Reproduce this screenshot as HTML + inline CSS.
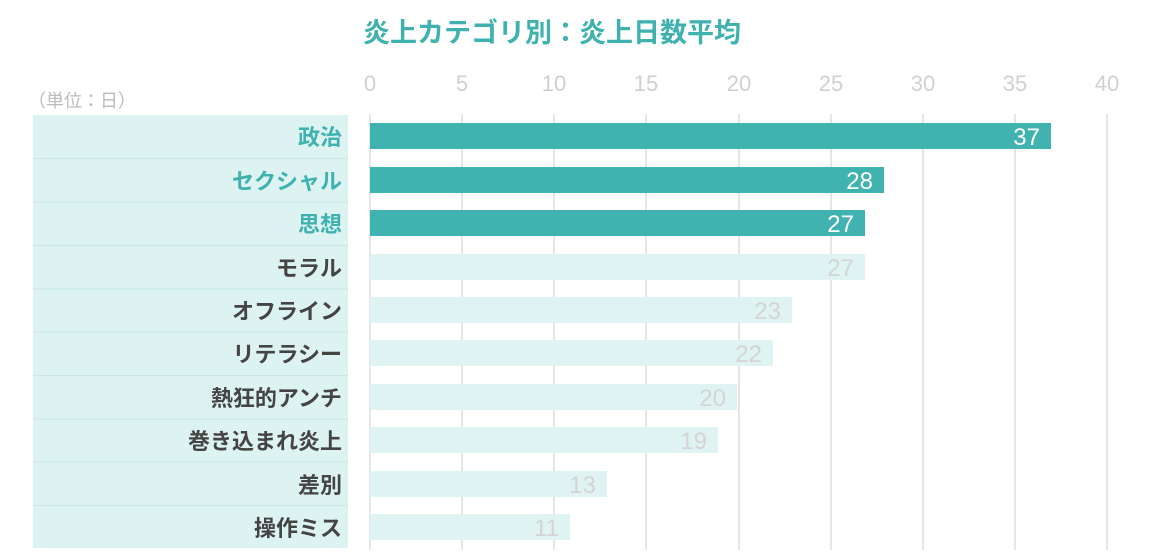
<!DOCTYPE html>
<html><head><meta charset="utf-8"><style>
body{margin:0;background:#fff;width:1149px;height:555px;overflow:hidden;font-family:"Liberation Sans","Noto Sans CJK JP",sans-serif}
</style></head><body>
<svg width="1149" height="555" xmlns="http://www.w3.org/2000/svg" font-family="Liberation Sans, Noto Sans CJK JP, sans-serif">
<text x="552" y="42" text-anchor="middle" font-size="27" font-weight="bold" fill="#3fb2b0">炎上カテゴリ別：炎上日数平均</text>
<text x="28" y="107" font-size="18" fill="#bbb">（単位：日）</text>
<rect x="33" y="115" width="315" height="433" fill="#dcf3f1"/>
<g stroke="#c9e8e5" stroke-width="1">
<line x1="33" y1="158.5" x2="348" y2="158.5"/><line x1="33" y1="202" x2="348" y2="202"/><line x1="33" y1="245.5" x2="348" y2="245.5"/><line x1="33" y1="289" x2="348" y2="289"/><line x1="33" y1="332" x2="348" y2="332"/><line x1="33" y1="375.5" x2="348" y2="375.5"/><line x1="33" y1="419" x2="348" y2="419"/><line x1="33" y1="462" x2="348" y2="462"/><line x1="33" y1="505.5" x2="348" y2="505.5"/>
</g>
<g stroke="#ddd" stroke-width="1.5">
<line x1="370" y1="114" x2="370" y2="550"/><line x1="462" y1="114" x2="462" y2="550"/><line x1="554" y1="114" x2="554" y2="550"/><line x1="646" y1="114" x2="646" y2="550"/><line x1="739" y1="114" x2="739" y2="550"/><line x1="831" y1="114" x2="831" y2="550"/><line x1="923" y1="114" x2="923" y2="550"/><line x1="1015" y1="114" x2="1015" y2="550"/><line x1="1107" y1="114" x2="1107" y2="550"/>
</g>
<g font-size="22" fill="#d0d0d0" text-anchor="middle">
<text x="370" y="91">0</text><text x="462" y="91">5</text><text x="554" y="91">10</text><text x="646" y="91">15</text><text x="739" y="91">20</text><text x="831" y="91">25</text><text x="923" y="91">30</text><text x="1015" y="91">35</text><text x="1107" y="91">40</text>
</g>
<g>
<rect x="370" y="123" width="681" height="26" fill="#40b3b1"/>
<rect x="370" y="167" width="514" height="26" fill="#40b3b1"/>
<rect x="370" y="210" width="495" height="26" fill="#40b3b1"/>
<rect x="370" y="254" width="495" height="26" fill="#dff4f2"/>
<rect x="370" y="297" width="422" height="26" fill="#dff4f2"/>
<rect x="370" y="340" width="403" height="26" fill="#dff4f2"/>
<rect x="370" y="384" width="367" height="26" fill="#dff4f2"/>
<rect x="370" y="427" width="348" height="26" fill="#dff4f2"/>
<rect x="370" y="471" width="237" height="26" fill="#dff4f2"/>
<rect x="370" y="514" width="200" height="26" fill="#dff4f2"/>
</g>
<g font-size="24" text-anchor="end">
<text x="1040" y="145" fill="#fff">37</text>
<text x="873" y="189" fill="#fff">28</text>
<text x="854" y="232" fill="#fff">27</text>
<text x="854" y="276" fill="#d4d4d4">27</text>
<text x="781" y="319" fill="#d4d4d4">23</text>
<text x="762" y="362" fill="#d4d4d4">22</text>
<text x="726" y="406" fill="#d4d4d4">20</text>
<text x="707" y="449" fill="#d4d4d4">19</text>
<text x="596" y="493" fill="#d4d4d4">13</text>
<text x="559" y="536" fill="#d4d4d4">11</text>
</g>
<g font-size="22" font-weight="bold" text-anchor="end">
<text x="342" y="145" fill="#3fb2b0">政治</text>
<text x="342" y="189" fill="#3fb2b0">セクシャル</text>
<text x="342" y="232" fill="#3fb2b0">思想</text>
<text x="342" y="276" fill="#444">モラル</text>
<text x="342" y="319" fill="#444">オフライン</text>
<text x="342" y="362" fill="#444">リテラシー</text>
<text x="342" y="406" fill="#444">熱狂的アンチ</text>
<text x="342" y="449" fill="#444">巻き込まれ炎上</text>
<text x="342" y="493" fill="#444">差別</text>
<text x="342" y="536" fill="#444">操作ミス</text>
</g>
</svg>
</body></html>
